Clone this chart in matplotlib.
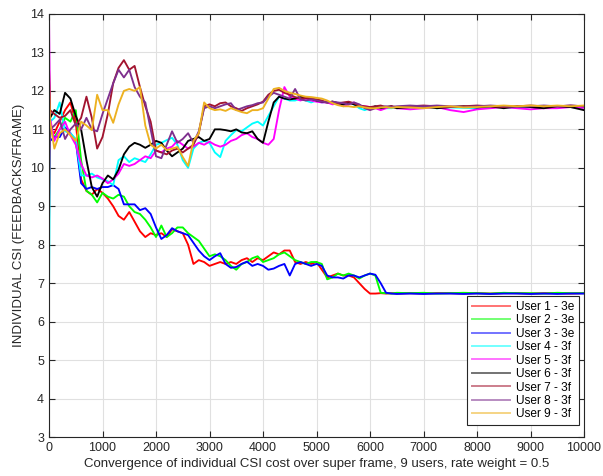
import numpy as np
import matplotlib
matplotlib.use("Agg")
import matplotlib.pyplot as plt

plt.rcParams['font.family'] = ['Liberation Sans', 'DejaVu Sans']

# sampling grid of frames (x positions of the read-off samples)
frames = np.concatenate([[0, 20], np.arange(100, 6501, 100), np.arange(6750, 10001, 250)])

user1 = [11.3, 11.0, 10.9, 11.2, 11.5, 11.7, 11.2, 9.7, 9.4, 9.3,
         9.45, 9.35, 9.2, 9.0, 8.75, 8.65, 8.85, 8.6, 8.35, 8.2,
         8.3, 8.25, 8.3, 8.2, 8.4, 8.35, 8.3, 8.0, 7.5, 7.6,
         7.55, 7.45, 7.5, 7.55, 7.5, 7.55, 7.5, 7.6, 7.65, 7.55,
         7.65, 7.6, 7.7, 7.8, 7.75, 7.85, 7.85, 7.55, 7.5, 7.55,
         7.5, 7.55, 7.35, 7.15, 7.2, 7.25, 7.2, 7.2, 7.15, 7.0,
         6.85, 6.73, 6.73, 6.74, 6.73, 6.74, 6.73,
         6.74, 6.73, 6.74, 6.74, 6.73, 6.74, 6.73, 6.74, 6.74, 6.73, 6.74, 6.74, 6.73, 6.74]
user2 = [11.2, 11.0, 10.8, 11.0, 11.3, 11.2, 11.5, 10.2, 9.4, 9.3,
         9.1, 9.35, 9.25, 9.2, 9.3, 9.25, 9.0, 8.85, 8.8, 8.65,
         8.45, 8.2, 8.5, 8.2, 8.3, 8.45, 8.45, 8.3, 8.2, 8.1,
         7.9, 7.7, 7.75, 7.7, 7.6, 7.45, 7.35, 7.5, 7.55, 7.65,
         7.7, 7.55, 7.6, 7.65, 7.75, 7.8, 7.7, 7.6, 7.55, 7.5,
         7.55, 7.55, 7.5, 7.1, 7.15, 7.25, 7.2, 7.25, 7.2, 7.12,
         7.2, 7.25, 7.2, 6.75, 6.74, 6.73, 6.75,
         6.74, 6.75, 6.73, 6.74, 6.75, 6.74, 6.73, 6.75, 6.74, 6.74, 6.73, 6.75, 6.74, 6.74]
user3 = [10.8, 10.7, 10.8, 10.8, 11.05, 10.9, 10.7, 9.6, 9.45, 9.5,
         9.45, 9.5, 9.5, 9.55, 9.45, 9.05, 9.05, 9.05, 8.9, 8.95,
         8.8, 8.45, 8.15, 8.25, 8.43, 8.35, 8.3, 8.25, 8.05, 7.85,
         7.7, 7.6, 7.7, 7.78, 7.5, 7.4, 7.42, 7.5, 7.56, 7.45,
         7.5, 7.45, 7.35, 7.38, 7.45, 7.5, 7.2, 7.5, 7.55, 7.5,
         7.45, 7.5, 7.45, 7.2, 7.15, 7.15, 7.12, 7.2, 7.2, 7.15,
         7.2, 7.25, 7.22, 7.0, 6.75, 6.73, 6.72,
         6.73, 6.72, 6.73, 6.73, 6.72, 6.73, 6.72, 6.73, 6.73, 6.72, 6.73, 6.72, 6.73, 6.73]
user4 = [6.65, 11.2, 11.3, 11.7, 10.95, 10.9, 10.75, 9.8, 9.8, 9.85,
         9.75, 9.7, 9.65, 9.55, 10.2, 10.3, 10.15, 10.25, 10.2, 10.15,
         10.35, 10.6, 10.65, 10.72, 10.78, 10.6, 10.2, 10.0, 10.5, 10.65,
         10.7, 10.65, 10.4, 10.28, 10.7, 10.85, 10.98, 10.95, 11.05, 11.15,
         11.2, 11.1, 11.35, 11.6, 11.85, 11.8, 11.75, 11.75, 11.8, 11.75,
         11.7, 11.75, 11.7, 11.72, 11.7, 11.68, 11.65, 11.7, 11.65, 11.55,
         11.5, 11.55, 11.6, 11.58, 11.55, 11.55, 11.57,
         11.55, 11.58, 11.55, 11.57, 11.56, 11.55, 11.57, 11.58, 11.56, 11.58, 11.57, 11.6, 11.58, 11.57]
user5 = [14.0, 11.3, 10.7, 11.0, 11.2, 10.85, 10.6, 10.1, 9.8, 9.75,
         9.8, 9.72, 9.6, 9.7, 9.85, 10.1, 10.05, 10.1, 10.2, 10.3,
         10.25, 10.45, 10.4, 10.5, 10.55, 10.7, 10.6, 10.5, 10.55, 10.65,
         10.6, 10.68, 10.6, 10.55, 10.6, 10.7, 10.75, 10.85, 10.9, 10.8,
         10.75, 10.65, 10.6, 10.75, 11.5, 12.1, 11.85, 11.8, 11.75, 11.8,
         11.75, 11.72, 11.7, 11.7, 11.65, 11.68, 11.6, 11.65, 11.7, 11.62,
         11.6, 11.58, 11.55, 11.5, 11.55, 11.6, 11.55,
         11.52, 11.55, 11.58, 11.5, 11.45, 11.52, 11.55, 11.58, 11.55, 11.52, 11.55, 11.55, 11.58, 11.56]
user6 = [11.0, 11.3, 11.5, 11.4, 11.95, 11.8, 11.35, 11.0, 10.2, 9.5,
         9.25, 9.6, 9.8, 9.7, 9.95, 10.35, 10.55, 10.65, 10.6, 10.52,
         10.6, 10.7, 10.65, 10.45, 10.3, 10.4, 10.5, 10.7, 10.75, 10.8,
         10.7, 10.75, 11.0, 11.0, 10.98, 10.95, 11.0, 10.92, 10.9, 10.95,
         10.75, 10.65, 11.2, 11.7, 11.85, 11.8, 11.78, 11.8, 11.85, 11.82,
         11.8, 11.75, 11.72, 11.7, 11.72, 11.68, 11.65, 11.7, 11.65, 11.6,
         11.58, 11.55, 11.6, 11.55, 11.58, 11.6, 11.55,
         11.58, 11.6, 11.55, 11.58, 11.6, 11.57, 11.6, 11.55, 11.6, 11.58, 11.55, 11.6, 11.58, 11.5]
user7 = [12.6, 11.5, 11.4, 11.3, 11.35, 11.5, 11.1, 11.3, 11.85, 11.3,
         10.5, 10.8, 11.4, 12.2, 12.6, 12.8, 12.55, 12.65, 12.1, 11.6,
         11.2, 10.45, 10.4, 10.35, 10.45, 10.5, 10.4, 10.5, 10.6, 10.9,
         11.6, 11.65, 11.6, 11.68, 11.7, 11.6, 11.55, 11.48, 11.55, 11.6,
         11.65, 11.72, 11.9, 12.0, 12.03, 11.95, 11.9, 11.84, 11.8, 11.82,
         11.8, 11.78, 11.75, 11.7, 11.72, 11.68, 11.7, 11.72, 11.68, 11.62,
         11.6, 11.58, 11.6, 11.62, 11.58, 11.6, 11.58,
         11.6, 11.62, 11.6, 11.58, 11.6, 11.62, 11.6, 11.58, 11.6, 11.62, 11.6, 11.6, 11.62, 11.6]
user8 = [8.5, 11.0, 11.1, 11.25, 10.75, 11.0, 11.15, 11.0, 11.3, 11.0,
         10.95, 11.4, 11.8, 12.2, 12.55, 12.35, 12.55, 12.1, 11.85, 11.7,
         11.0, 10.3, 10.25, 10.6, 10.95, 10.65, 10.75, 10.9, 10.65, 10.95,
         11.55, 11.6, 11.55, 11.6, 11.65, 11.68, 11.5, 11.55, 11.6, 11.63,
         11.68, 11.7, 11.85, 11.95, 11.9, 11.85, 11.8, 12.05, 11.78, 11.75,
         11.78, 11.75, 11.72, 11.7, 11.72, 11.7, 11.68, 11.65, 11.7, 11.65,
         11.55, 11.5, 11.55, 11.58, 11.6, 11.58, 11.6,
         11.62, 11.6, 11.62, 11.6, 11.58, 11.6, 11.62, 11.6, 11.58, 11.6, 11.62, 11.6, 11.62, 11.6]
user9 = [12.2, 11.2, 10.5, 10.9, 11.0, 10.85, 10.7, 11.2, 11.1, 10.98,
         11.9, 11.5, 11.5, 11.17, 11.65, 12.0, 12.05, 12.0, 12.1, 11.1,
         10.6, 10.5, 10.6, 10.46, 10.5, 10.54, 10.28, 10.05, 10.7, 10.9,
         11.7, 11.55, 11.5, 11.52, 11.48, 11.55, 11.5, 11.45, 11.42, 11.5,
         11.5, 11.55, 11.8, 12.05, 12.08, 12.0, 11.95, 11.92, 11.88, 11.85,
         11.84, 11.82, 11.8, 11.75, 11.68, 11.63, 11.6, 11.6, 11.58, 11.6,
         11.57, 11.55, 11.55, 11.57, 11.58, 11.56, 11.58,
         11.57, 11.55, 11.58, 11.6, 11.57, 11.58, 11.6, 11.62, 11.6, 11.62, 11.6, 11.62, 11.6, 11.62]

series = [user1, user2, user3, user4, user5, user6, user7, user8, user9]
labels = ["User 1 - 3e", "User 2 - 3e", "User 3 - 3e", "User 4 - 3f", "User 5 - 3f",
          "User 6 - 3f", "User 7 - 3f", "User 8 - 3f", "User 9 - 3f"]
colors = ["#ff0000", "#00ff00", "#0000ff", "#00ffff", "#ff00ff", "#000000",
          "#a2142f", "#7e2f8e", "#edb120"]

fig = plt.figure(figsize=(6.03, 4.76), dpi=100)
ax = fig.add_axes([49/603, 1 - 437/476, 535/603, 423/476])

for vals, lab, col in zip(series, labels, colors):
    ax.plot(frames, vals, color=col, lw=1.35, label=lab)

ax.set_xlim(0, 10000)
ax.set_ylim(3, 14)
ax.set_xticks(np.arange(0, 10001, 1000))
ax.set_yticks(np.arange(3, 15, 1))
ax.grid(True, color='#e0e0e0', lw=0.8)
ax.set_axisbelow(True)
ax.tick_params(direction='in', top=True, right=True, labelsize=9, colors='#262626', length=4)
for s in ax.spines.values():
    s.set_color('#262626')
    s.set_linewidth(0.8)

ax.set_xlabel("Convergence of individual CSI cost over super frame, 9 users, rate weight = 0.5",
              fontsize=9.5, color='#262626', labelpad=3)
ax.set_ylabel("INDIVIDUAL CSI (FEEDBACKS/FRAME)", fontsize=9.5, color='#262626', labelpad=4)

leg = ax.legend(loc='lower right', bbox_to_anchor=(0.991, 0.028), borderaxespad=0,
                fontsize=8.6, fancybox=False, framealpha=1, edgecolor='#262626',
                handlelength=3.2, labelspacing=0.12, borderpad=0.4, handletextpad=0.5)
leg.get_frame().set_linewidth(0.8)
for h in leg.get_lines():
    h.set_alpha(0.55)
    h.set_linewidth(1.4)

fig.savefig("out.png", dpi=100)
